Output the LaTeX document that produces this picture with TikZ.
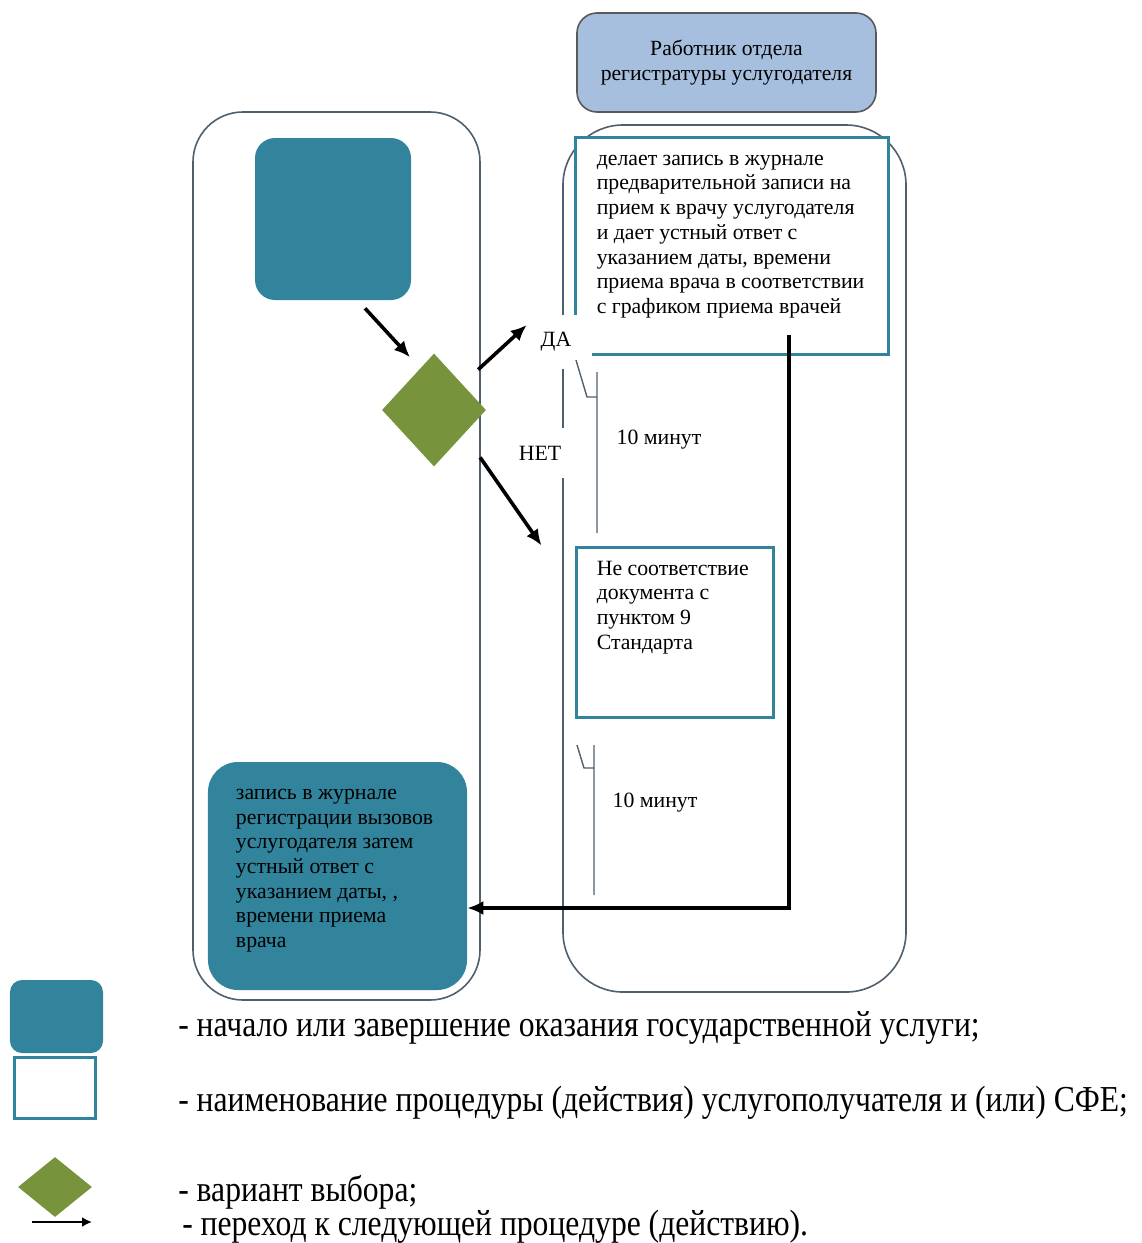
\documentclass[tikz,border=0pt]{standalone}
\usepackage{fontspec}
\setmainfont{Liberation Serif}
\newfontfamily\legfont[FakeStretch=0.865]{Liberation Serif}
\usetikzlibrary{positioning, shapes.geometric, arrows.meta}
\definecolor{tealbox}{HTML}{31849B}
\definecolor{headblue}{HTML}{A7BFDE}
\definecolor{olivegr}{HTML}{77933C}
\definecolor{lanegray}{HTML}{4F5F6E}

\begin{document}
\begin{tikzpicture}[x=0.25mm, y=-0.25mm,
  lane/.style={draw=lanegray, line width=0.4mm},
  proc/.style={draw=tealbox, line width=0.75mm, fill=white},
  term/.style={fill=tealbox, rounded corners=5mm},
  choice/.style={diamond, fill=olivegr, inner sep=0pt},
  txt/.style={align=left, inner sep=0pt, font=\fontsize{15.5}{17.6}\selectfont},
  flow/.style={-{Latex[length=4mm,width=3.5mm]}, line width=0.9mm},
  timer/.style={draw=lanegray, line width=0.35mm},
  leg/.style={anchor=west, inner sep=0pt, font=\legfont\fontsize{26}{30}\selectfont}]
  \useasboundingbox (0,0) rectangle (1141,1243);

  % swimlanes
  \node[draw=gray!70!black, fill=headblue, rounded corners=5mm, line width=0.4mm,
        minimum width=74.75mm, minimum height=24.75mm, align=center,
        font=\fontsize{15.4}{17.5}\selectfont] (head) at (726.5,62.5)
        {Работник отдела\\регистратуры услугодателя};
  \node[lane, rounded corners=12.5mm, minimum width=71.75mm, minimum height=222mm] (laneL) at (336.5,556) {};
  \node[lane, rounded corners=15mm, minimum width=85.75mm, minimum height=216.75mm] (laneR) at (734.5,558.5) {};

  % steps
  \node[term, minimum width=39mm, minimum height=40.5mm] (start) at (333,219) {};
  \node[choice, minimum width=26mm, minimum height=28.25mm] (dec) at (434,410) {};
  \node[proc, minimum width=78.25mm, minimum height=54.25mm] (box1) at (731.5,245.5) {};
  \node[txt, below right=4.75mm and 5.75mm of box1.north west] (box1t)
    {делает запись в журнале\\предварительной  записи на\\прием к врачу  услугодателя\\и дает устный ответ с\\указанием  даты, времени\\приема врача в  соответствии\\с  графиком приема врачей};
  \node[proc, minimum width=49.25mm, minimum height=42.5mm] (box2) at (674.5,632) {};
  \node[txt, below right=3.75mm and 5.5mm of box2.north west] (box2t)
    {Не соответствие\\документа с\\пунктом 9\\Стандарта};
  \node[term, rounded corners=7.5mm, minimum width=64.75mm, minimum height=57mm] (endb) at (337.5,876) {};
  \node[txt, below right=6.75mm and 7mm of endb.north west] (endbt)
    {запись в журнале\\регистрации  вызовов\\услугодателя затем\\устный ответ с\\указанием  даты,  ,\\времени  приема\\врача};

  % labels
  \node[fill=white, minimum width=18mm, minimum height=13.5mm, font=\fontsize{15.5}{17.6}\selectfont] (da) at (556,342) {ДА};
  \node[fill=white, minimum width=13mm, minimum height=12.5mm, font=\fontsize{15.5}{17.6}\selectfont] (net) at (540,453) {НЕТ};

  % timers
  \draw[timer] (576,360) -- (587,397) -- (597,397) (597,372) -- (597,533);
  \node[txt] (time1) at (659,440) {10 минут};
  \draw[timer] (577,745) -- (584,768) -- (594,768) (594,745) -- (594,895);
  \node[txt] (time2) at (655,803) {10 минут};

  % arrows
  \draw[flow] ([xshift=8mm,yshift=-2mm]start.south) -- ([xshift=-6mm,yshift=-1mm]dec.north);
  \draw[flow] ([xshift=4.5mm,yshift=3mm]dec.north east) -- ([xshift=1.75mm,yshift=4.25mm]da.west);
  \draw[flow] ([xshift=5mm,yshift=-4.75mm]dec.south east) -- ([xshift=-8.25mm]box2.north west);
  \draw[flow, line width=1mm] ([xshift=14.4mm,yshift=5.25mm]box1.south) |- ([yshift=-8mm]endb.east);

  % legend
  \node[term, rounded corners=3mm, minimum width=23.25mm, minimum height=18.25mm] (lterm) at (56.5,1016.5) {};
  \node[proc, minimum width=20mm, minimum height=15.25mm] (lproc) at (55,1087.5) {};
  \node[choice, minimum width=18.5mm, minimum height=15mm] (lchoice) at (55,1187) {};
  \coordinate (la) at (32,1222);
  \coordinate (lb) at (92,1222);
  \draw[-{Latex[length=2.5mm,width=2.5mm]}, line width=0.6mm] (la) -- (lb);
  \node[leg] (leg1) at (178,1028) {- начало или завершение оказания государственной услуги;};
  \node[leg] (leg2) at (178,1103) {- наименование процедуры (действия) услугополучателя и (или) СФЕ;};
  \node[leg] (leg3) at (178,1192) {- вариант выбора;};
  \node[leg] (leg4) at (182,1227) {- переход к следующей процедуре (действию).};
\end{tikzpicture}
\end{document}
